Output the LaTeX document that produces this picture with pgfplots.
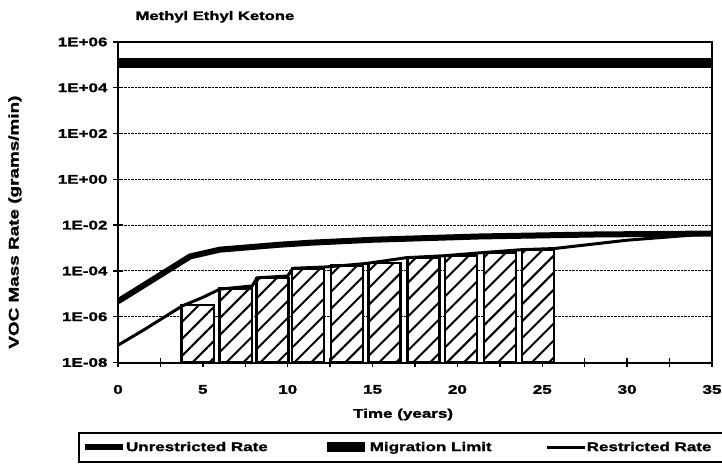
\documentclass[border=0pt]{standalone}
\usepackage{fontspec}
\setmainfont{Liberation Sans}[FakeStretch=1.35, BoldFeatures={FakeBold=1.5}]
\usepackage{pgfplots}
\pgfplotsset{compat=1.18}
\usetikzlibrary{patterns.meta}

\pgfplotstableread{
x y
4.7   3.3e-6
6.93  1.7e-5
9.1   5.0e-5
11.2  1.3e-4
13.5  1.7e-4
15.7  2.2e-4
18.0  3.9e-4
20.2  4.7e-4
22.5  6.5e-4
24.75 8.6e-4
}\bars

\pgfplotstableread{
x y
0     4.7e-6
4.25  4.3e-4
6.0   8.5e-4
9.55  1.4e-3
11.3  1.7e-3
15.0  2.3e-3
21.3  3.2e-3
28.0  3.9e-3
35.0  4.3e-3
}\unrestricted

\pgfplotstableread{
x y
0     5.7e-8
1.5   2.6e-7
3.8   3.0e-6
5.0   7.0e-6
6.0   1.6e-5
7.9   2.2e-5
8.2   5.0e-5
10.0  6.0e-5
10.3  1.3e-4
12.3  1.5e-4
14.6  2.1e-4
17.0  3.8e-4
19.2  4.6e-4
21.6  6.4e-4
23.8  8.5e-4
25.7  9.5e-4
30.0  2.2e-3
35.0  4.3e-3
}\restricted

\begin{document}
\begin{tikzpicture}
\path[use as bounding box] (-118pt,-107.5pt) rectangle (604pt,362.5pt);
\begin{axis}[
  at={(0pt,0pt)}, anchor=south west,
  scale only axis, width=594pt, height=320.5pt,
  xmin=0, xmax=35, ymin=1e-8, ymax=1e6,
  ymode=log, log origin y=infty,
  xtick={0,5,...,35}, minor xtick={2.5,7.5,...,32.5},
  ytick={1e-8,1e-6,1e-4,1e-2,1,1e2,1e4,1e6},
  yticklabels={1E-08,1E-06,1E-04,1E-02,1E+00,1E+02,1E+04,1E+06},
  yminorticks=false,
  xtick pos=bottom, ytick pos=left,
  tick align=center,
  major tick length=10pt, minor tick length=10pt,
  every tick/.style={black, line width=1.4pt},
  axis line style={line width=2pt},
  ymajorgrids,
  grid style={densely dotted, line width=0.9pt, black},
  /pgf/number format/assume math mode=true,
  tick label style={font=\bfseries\fontsize{12.6}{15}\selectfont},
  xticklabel style={yshift=-14pt},
  yticklabel style={xshift=-2pt},
  title={Methyl Ethyl Ketone},
  title style={at={(axis description cs:0.0236,1)}, anchor=base west, yshift=16pt, font=\bfseries\fontsize{12.3}{14}\selectfont},
  xlabel={Time (years)},
  xlabel style={font=\bfseries\fontsize{12.6}{15}\selectfont, at={(axis description cs:0.48,0)}, anchor=center, yshift=-52pt},
  ylabel={VOC Mass Rate (grams/min)},
  ylabel style={font=\bfseries\fontsize{14}{16}\selectfont, at={(axis description cs:-0.1734,0.438)}, anchor=center, rotate=0},
  legend columns=4,
  legend image code/.code={\draw[#1] (0pt,0pt) -- (38pt,0pt);},
  legend style={at={(axis description cs:-0.0673,-0.2168)}, anchor=north west,
    draw=black, line width=2pt, inner ysep=7pt,
    font=\bfseries\fontsize{12.6}{15}\selectfont,
    /tikz/every even column/.append style={column sep=52pt},
    /tikz/every odd column/.append style={column sep=-2pt}},
]
\addplot[ybar, bar width=1.9, draw=black, line width=2.4pt, fill=white,
  postaction={pattern={Lines[angle=45,distance=12pt,line width=2pt]}}, forget plot]
  table[x=x,y=y] {\bars};
\addplot[black, line width=6pt] table[x=x,y=y] {\unrestricted};
\addlegendentry{Unrestricted Rate}
\addplot[black, line width=10pt] coordinates {(0,1.2e5) (35,1.2e5)};
\addlegendentry{Migration Limit}
\addplot[black, line width=3pt] table[x=x,y=y] {\restricted};
\addlegendentry{Restricted Rate}
\addlegendimage{empty legend}
\addlegendentry{\hspace{30pt}}
\end{axis}
\end{tikzpicture}
\end{document}
